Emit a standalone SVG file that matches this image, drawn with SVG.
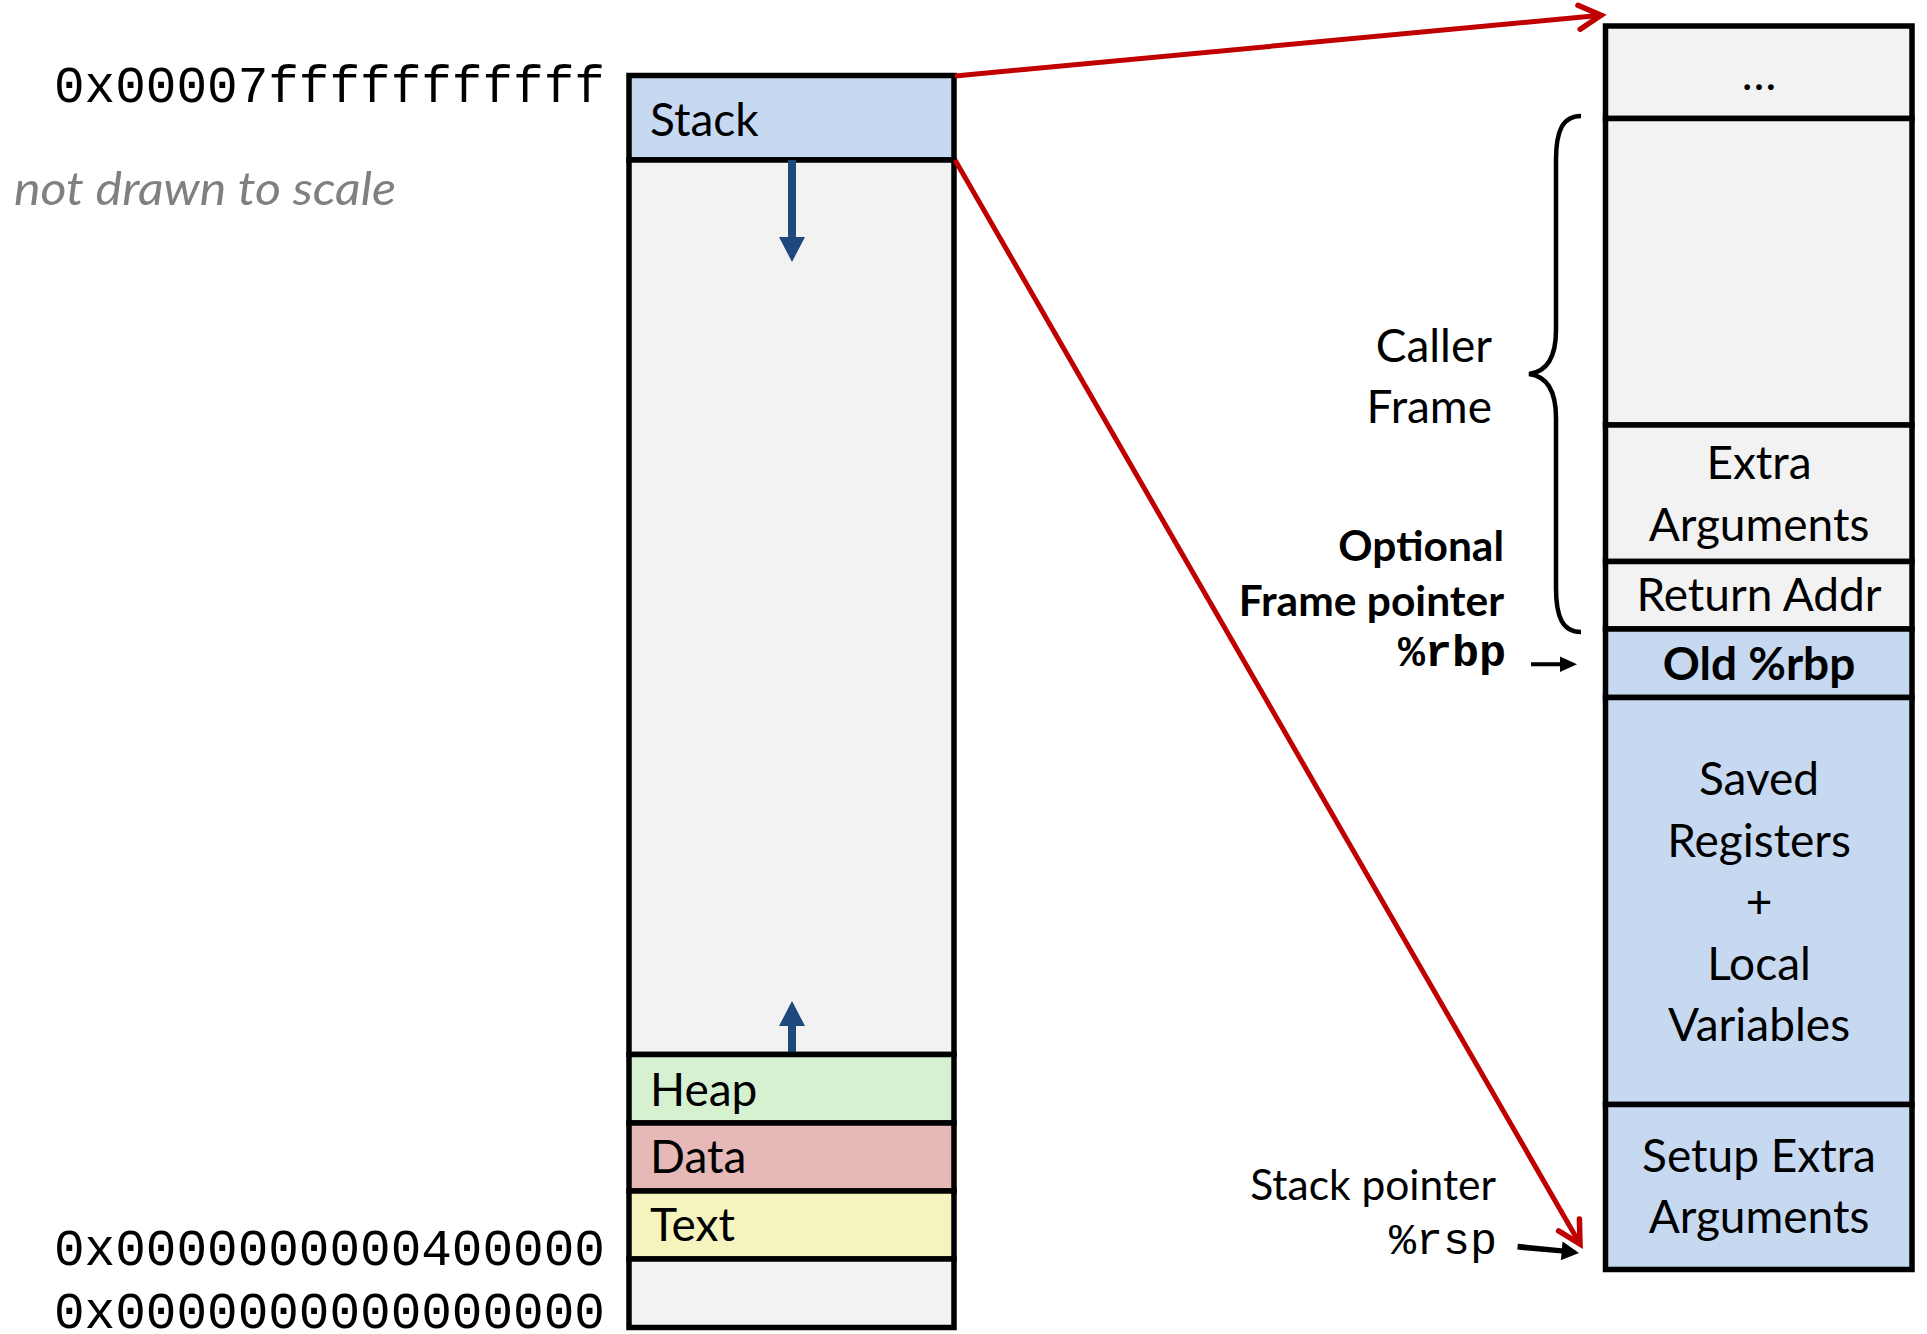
<svg xmlns="http://www.w3.org/2000/svg" width="1927" height="1334" viewBox="0 0 1927 1334">
  <style>
    .cell { stroke: #000; stroke-width: 5.5; }
    .gray { fill: #F2F2F2; }
    .blue { fill: #C6D9F1; }
    .heap { fill: #D5F1D0; }
    .data { fill: #E6B8B7; }
    .text { fill: #F6F4BE; }
    .lbl { font-family: Lato, "Open Sans", sans-serif; font-size: 46px; fill: #000; }
    .small { font-size: 42.5px; }
    .ctr { text-anchor: middle; }
    .rt { text-anchor: end; }
    .bold { font-weight: bold; }
    .mono { font-family: "Liberation Mono", "DejaVu Sans Mono", monospace; fill: #000; }
    .red { stroke: #C00000; stroke-width: 5; fill: none; }
    .growth { fill: #1F497D; }
  </style>
  <defs>
    <marker id="redHead" viewBox="-28 -18 34 36" refX="0" refY="0" markerWidth="34" markerHeight="36" markerUnits="userSpaceOnUse" orient="auto">
      <path d="M-22,-12 L0,0 L-22,12" fill="none" stroke="#C00000" stroke-width="5.5" stroke-linecap="round"/>
    </marker>
  </defs>

  <rect width="1927" height="1334" fill="#fff"/>

  <!-- address labels and note -->
  <g id="addresses">
    <text class="mono" x="54" y="102" font-size="51">0x00007fffffffffff</text>
    <text class="mono" x="54" y="1265" font-size="51">0x0000000000400000</text>
    <text class="mono" x="54" y="1328" font-size="51">0x0000000000000000</text>
    <text x="14" y="205" font-family="Lato, 'Open Sans', sans-serif" font-style="italic" font-size="47" fill="#808080" textLength="382" lengthAdjust="spacingAndGlyphs">not drawn to scale</text>
  </g>

  <!-- process memory layout -->
  <g id="memory">
    <g id="seg-stack">
      <rect class="cell blue" x="629" y="75.5" width="325" height="84.5"/>
      <text class="lbl" x="650" y="136">Stack</text>
    </g>
    <g id="seg-free">
      <rect class="cell gray" x="629" y="160" width="325" height="894.5"/>
      <path class="growth" d="M788,160 H796 V237 H805 L792,262 L779,237 H788 Z"/>
      <path class="growth" d="M788,1054 H796 V1026 H805 L792,1001 L779,1026 H788 Z"/>
    </g>
    <g id="seg-heap">
      <rect class="cell heap" x="629" y="1054.5" width="325" height="68.5"/>
      <text class="lbl" x="650" y="1106">Heap</text>
    </g>
    <g id="seg-data">
      <rect class="cell data" x="629" y="1123" width="325" height="68"/>
      <text class="lbl" x="650" y="1173">Data</text>
    </g>
    <g id="seg-text">
      <rect class="cell text" x="629" y="1191" width="325" height="68"/>
      <text class="lbl" x="650" y="1241">Text</text>
    </g>
    <g id="seg-bottom">
      <rect class="cell gray" x="629" y="1259" width="325" height="68.5"/>
    </g>
  </g>

  <!-- stack frame detail -->
  <g id="frames">
    <g id="frame-more">
      <rect class="cell gray" x="1605.5" y="26" width="306.5" height="92.5"/>
      <text class="lbl ctr" x="1759" y="90">…</text>
    </g>
    <g id="frame-caller">
      <rect class="cell gray" x="1605.5" y="118.5" width="306.5" height="306.5"/>
    </g>
    <g id="frame-args">
      <rect class="cell gray" x="1605.5" y="425" width="306.5" height="136.5"/>
      <text class="lbl ctr" x="1759" y="479">Extra</text>
      <text class="lbl ctr" x="1759" y="541">Arguments</text>
    </g>
    <g id="frame-ret">
      <rect class="cell gray" x="1605.5" y="561.5" width="306.5" height="67.5"/>
      <text class="lbl ctr" x="1759" y="611">Return Addr</text>
    </g>
    <g id="frame-oldrbp">
      <rect class="cell blue" x="1605.5" y="629" width="306.5" height="68.5"/>
      <text class="lbl ctr bold" x="1759" y="680">Old %rbp</text>
    </g>
    <g id="frame-locals">
      <rect class="cell blue" x="1605.5" y="697.5" width="306.5" height="407"/>
      <text class="lbl ctr" x="1759" y="795">Saved</text>
      <text class="lbl ctr" x="1759" y="857">Registers</text>
      <text class="lbl ctr" x="1759" y="918">+</text>
      <text class="lbl ctr" x="1759" y="980">Local</text>
      <text class="lbl ctr" x="1759" y="1041">Variables</text>
    </g>
    <g id="frame-setup">
      <rect class="cell blue" x="1605.5" y="1104.5" width="306.5" height="165"/>
      <text class="lbl ctr" x="1759" y="1172">Setup Extra</text>
      <text class="lbl ctr" x="1759" y="1233">Arguments</text>
    </g>
  </g>

  <!-- side annotations -->
  <g id="caller-label">
    <path d="M1581,116 C1563,116 1556,130 1556,160 L1556,330 C1556,360 1545,372 1529,374 C1545,376 1556,388 1556,418 L1556,588 C1556,618 1563,632 1581,632" fill="none" stroke="#000" stroke-width="4.5"/>
    <text class="lbl rt" x="1492" y="362">Caller</text>
    <text class="lbl rt" x="1492" y="423">Frame</text>
  </g>
  <g id="rbp-label">
    <text class="lbl small rt bold" x="1504" y="561">Optional</text>
    <text class="lbl small rt bold" x="1504" y="616">Frame pointer</text>
    <text class="mono rt bold" x="1506" y="666" font-size="45">%rbp</text>
  </g>
  <g id="rsp-label">
    <text class="lbl small rt" x="1496" y="1200">Stack pointer</text>
    <text class="mono rt" x="1497" y="1254" font-size="45">%rsp</text>
  </g>

  <!-- connectors -->
  <g id="connectors">
    <line class="red" x1="955" y1="76" x2="1601" y2="15.2" marker-end="url(#redHead)"/>
    <line class="red" x1="955" y1="160" x2="1580" y2="1244" marker-end="url(#redHead)"/>
    <path d="M1531,662.3 H1560 V656.5 L1577,664.3 L1560,672 V666.3 H1531 Z" fill="#000"/>
    <path d="M1517.8,1243.8 L1561.9,1248.2 L1562.6,1241.5 L1579,1253 L1560.8,1260.2 L1561.5,1253.6 L1517.3,1249.6 Z" fill="#000"/>
  </g>
</svg>
